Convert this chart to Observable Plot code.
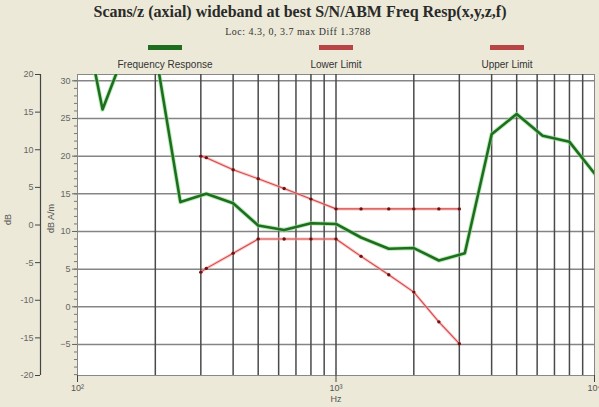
<!DOCTYPE html>
<html>
<head>
<meta charset="utf-8">
<script src="https://cdn.jsdelivr.net/npm/d3@7"></script>
<script src="https://cdn.jsdelivr.net/npm/@observablehq/plot@0.6"></script>
<style>
  body { margin: 0; background: #ece9d8; }
  #wrap { position: relative; width: 599px; height: 407px; background: #ece9d8; overflow: hidden; }
  #chart { position: absolute; left: 0; top: 0; }
  .t { position: absolute; white-space: nowrap; transform: translateX(-50%); }
  #title { left: 300px; top: 3px; font: bold 16px "Liberation Serif", "DejaVu Serif", serif; color: #2a2a2a; }
  #subtitle { left: 298px; top: 26px; font: 10px "Liberation Serif", serif; letter-spacing: 0.5px; color: #333; }
  .sw { position: absolute; width: 34px; height: 5px; transform: translateX(-50%); top: 45px; }
  .lg { position: absolute; white-space: nowrap; transform: translateX(-50%); top: 59px; font: 10px "Liberation Sans", sans-serif; color: #333; }
</style>
</head>
<body>
<div id="wrap">
  <div id="chart"></div>
  <div id="title" class="t">Scans/z (axial) wideband at best S/N/ABM Freq Resp(x,y,z,f)</div>
  <div id="subtitle" class="t">Loc: 4.3, 0, 3.7 max Diff 1.3788</div>
  <div id="legend"></div>
</div>
<script>
// ---- data ----
const freqs = [100, 125, 160, 200, 250, 315, 400, 500, 630, 800, 1000, 1250, 1600, 2000, 2500, 3150, 4000, 5000, 6300, 8000, 10000];
const response = [42.9, 26.2, 35.8, 34.0, 13.9, 15.0, 13.75, 10.8, 10.2, 11.1, 11.0, 9.2, 7.7, 7.8, 6.15, 7.1, 22.9, 25.6, 22.7, 21.9, 17.7];

const limitFreqs = [300, 315, 400, 500, 630, 800, 1000, 1250, 1600, 2000, 2500, 3000];
const upperLimit = [20.0, 19.8, 18.2, 17.0, 15.7, 14.3, 13.0, 13.0, 13.0, 13.0, 13.0, 13.0];
const lowerLimit = [4.6, 5.1, 7.1, 9.0, 9.0, 9.0, 9.0, 6.7, 4.25, 1.95, -2.0, -4.9];

const innerTicks = [30, 25, 20, 15, 10, 5, 0, -5];
const outerTicks = [20, 15, 10, 5, 0, -5, -10, -15, -20];
const xTicks = [100, 1000, 10000];
const xTickLabels = ["10²", "10³", "10⁴"];
const vGrid = [200, 300, 400, 500, 600, 700, 800, 900, 1000, 2000, 3000, 4000, 5000, 6000, 7000, 8000, 9000];
const hGrid = [30, 25, 20, 15, 10, 5, 0, -5];

const legendItems = ["Frequency Response", "Lower Limit", "Upper Limit"];
const legendColors = ["#1f6e1f", "#b84545", "#b84545"];
const legendX = [165, 336, 507];

// ---- scales ----
const yMin = -9.12, yMax = 30.84;
const oMin = -20, oMax = 20;
const toInner = o => yMin + (o - oMin) * (yMax - yMin) / (oMax - oMin);
const toOuter = v => oMin + (v - yMin) * (oMax - oMin) / (yMax - yMin);

const respRows = freqs.map((f, i) => ({f, v: response[i]}));
const upRows = limitFreqs.map((f, i) => ({f, v: upperLimit[i]}));
const loRows = limitFreqs.map((f, i) => ({f, v: lowerLimit[i]}));
const minor = d3.range(-9, 31);

const chart = Plot.plot({
  width: 599,
  height: 407,
  marginTop: 74,
  marginBottom: 32,
  marginLeft: 77,
  marginRight: 5,
  style: {background: "none", color: "#555", fontFamily: "Liberation Sans, sans-serif", fontSize: "9px"},
  x: {type: "log", domain: [100, 10000]},
  y: {domain: [yMin, yMax]},
  marks: [
    Plot.frame({fill: "white", stroke: "#888"}),
    Plot.ruleY(hGrid, {stroke: "#858585", strokeWidth: 1.5}),
    Plot.ruleX(vGrid, {stroke: "#4a4a4a", strokeWidth: 1.5}),
    // limits
    Plot.line(upRows, {x: "f", y: "v", stroke: "#f2a8a8", strokeWidth: 3, strokeOpacity: 0.6}),
    Plot.line(loRows, {x: "f", y: "v", stroke: "#f2a8a8", strokeWidth: 3, strokeOpacity: 0.6}),
    Plot.line(upRows, {x: "f", y: "v", stroke: "#d84848", strokeWidth: 1.1}),
    Plot.line(loRows, {x: "f", y: "v", stroke: "#d84848", strokeWidth: 1.1}),
    Plot.dot(upRows, {x: "f", y: "v", r: 1.7, fill: "#701010"}),
    Plot.dot(loRows, {x: "f", y: "v", r: 1.7, fill: "#701010"}),
    // response
    Plot.line(respRows, {x: "f", y: "v", stroke: "#8fe08f", strokeWidth: 4.5, strokeOpacity: 0.6, clip: true}),
    Plot.line(respRows, {x: "f", y: "v", stroke: "#1f6e1f", strokeWidth: 2.6, clip: true}),
    // inner y axis
    Plot.axisY(minor, {anchor: "left", tickSize: 3, tickFormat: () => "", label: null, stroke: "#777"}),
    Plot.axisY(innerTicks, {anchor: "left", tickSize: 5, tickPadding: 2, label: null, fill: "#666", stroke: "#666"}),
    // outer y axis (dB)
    Plot.ruleX([100], {dx: -37, stroke: "#444", strokeWidth: 1.2}),
    Plot.axisY(outerTicks.map(toInner), {anchor: "left", dx: -37, tickSize: 5, tickPadding: 2, label: null,
      tickFormat: d => String(Math.round(toOuter(d))), fill: "#666", stroke: "#444"}),
    // x axis
    Plot.axisX(xTicks, {anchor: "bottom", tickSize: 7, tickPadding: 2, label: null,
      tickFormat: (d) => xTickLabels[xTicks.indexOf(d)], fill: "#555", stroke: "#444"}),
    // axis titles
    Plot.text(["dB"], {text: d => d, frameAnchor: "left", dx: -69, rotate: -90, fill: "#555"}),
    Plot.text(["dB A/m"], {text: d => d, frameAnchor: "left", dx: -26, dy: 8, rotate: -90, fill: "#555"}),
    Plot.text(["Hz"], {text: d => d, frameAnchor: "bottom", dy: 26, fill: "#555"})
  ]
});
document.getElementById("chart").appendChild(chart);

// legend
const lg = document.getElementById("legend");
legendItems.forEach((name, i) => {
  const s = document.createElement("div");
  s.className = "sw";
  s.style.left = legendX[i] + "px";
  s.style.background = legendColors[i];
  lg.appendChild(s);
  const t = document.createElement("div");
  t.className = "lg";
  t.style.left = legendX[i] + "px";
  t.textContent = name;
  lg.appendChild(t);
});
</script>
</body>
</html>
